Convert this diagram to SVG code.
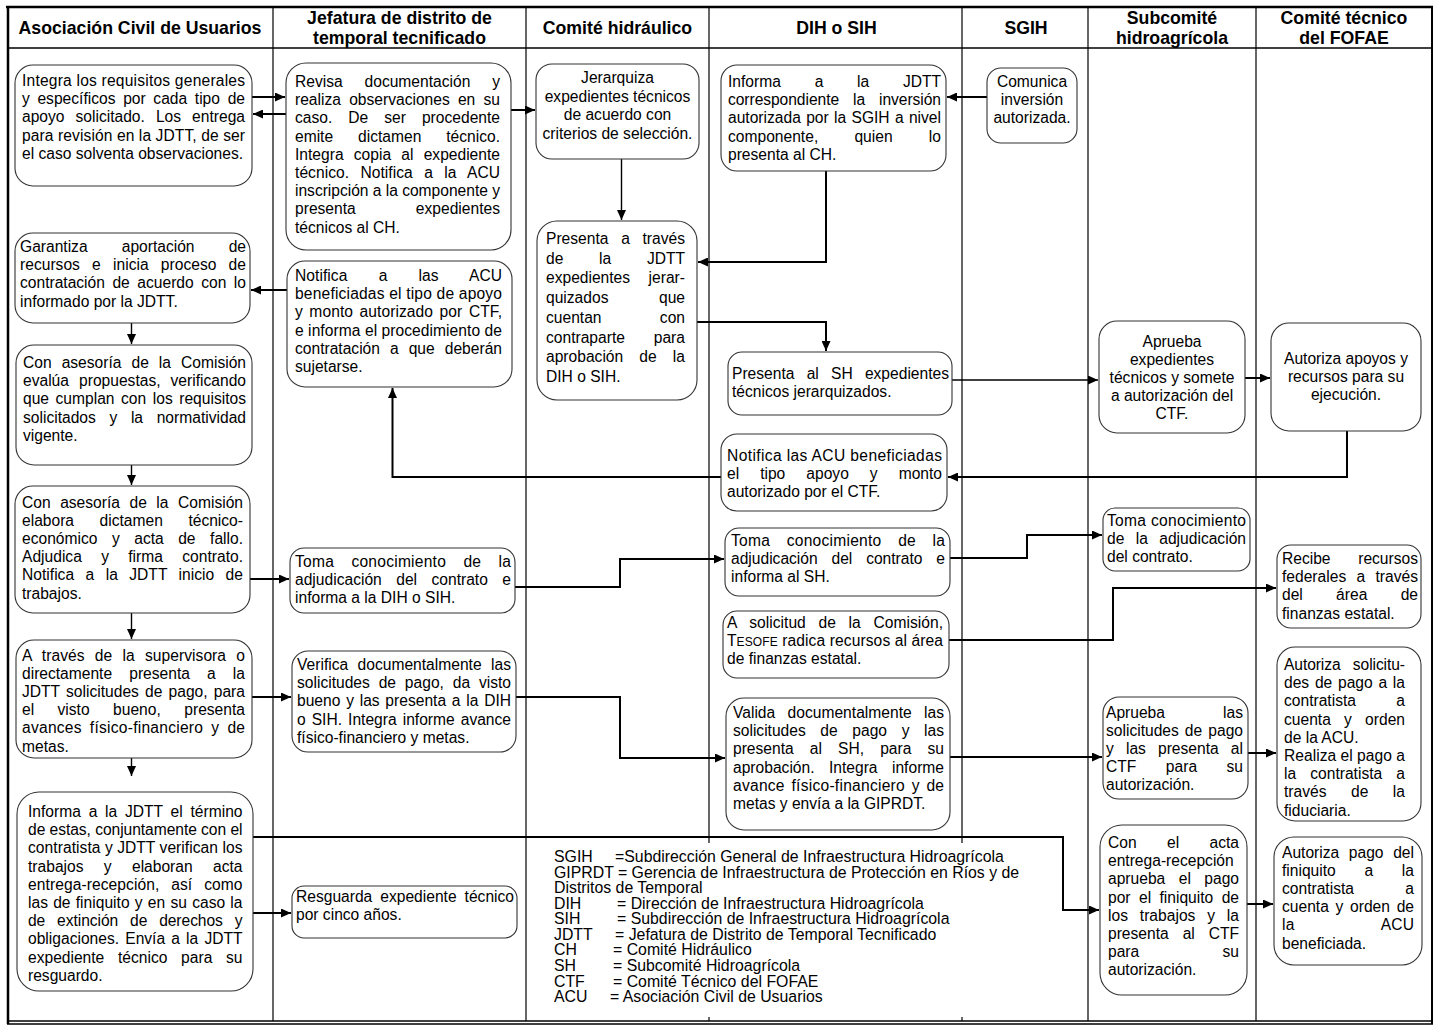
<svg xmlns="http://www.w3.org/2000/svg" width="1443" height="1033" viewBox="0 0 1443 1033">
<style>
.lane{stroke:#000;stroke-width:1.2;fill:none}
.frame{stroke:#000;fill:none}
.box{fill:#fff;stroke:#333;stroke-width:1.1}
.t{font-family:"Liberation Sans",Arial,Helvetica,sans-serif;font-size:15.6px;fill:#000}
.lg{font-size:15.85px}
.c{text-anchor:middle}
.h{font-family:"Liberation Sans",Arial,Helvetica,sans-serif;font-size:17.7px;font-weight:bold;fill:#000;text-anchor:middle}
.k{stroke:#000;stroke-width:2;fill:none;marker-end:url(#ah)}
.kt{stroke:#000;stroke-width:1.4;fill:none;marker-end:url(#ah)}
</style>
<defs>
<marker id="ah" markerUnits="userSpaceOnUse" markerWidth="10" markerHeight="9" refX="10" refY="4.5" orient="auto"><path d="M0,0 L10,4.5 L0,9 z" fill="#000"/></marker>
</defs>
<rect width="1443" height="1033" fill="#fff"/>
<g id="lanes">
<line class="lane" x1="273" y1="7" x2="273" y2="1021"/>
<line class="lane" x1="526" y1="7" x2="526" y2="1021"/>
<line class="lane" x1="709" y1="7" x2="709" y2="1021"/>
<line class="lane" x1="962" y1="7" x2="962" y2="1021"/>
<line class="lane" x1="1088" y1="7" x2="1088" y2="1021"/>
<line class="lane" x1="1256" y1="7" x2="1256" y2="1021"/>
<line class="frame" x1="6" y1="7" x2="1433" y2="7" stroke-width="2.5"/>
<line class="frame" x1="7" y1="48" x2="1432" y2="48" stroke-width="1.5"/>
<line class="frame" x1="8" y1="6" x2="8" y2="1024" stroke-width="2.5"/>
<line class="frame" x1="1432" y1="6" x2="1432" y2="1024" stroke-width="2"/>
<line class="frame" x1="7" y1="1021" x2="1433" y2="1021" stroke-width="1.4"/>
<line class="frame" x1="7" y1="1024" x2="1433" y2="1024" stroke-width="1.4"/>
<text class="h" x="140" y="34">Asociación Civil de Usuarios</text>
<text class="h" x="399.5" y="24">Jefatura de distrito de</text>
<text class="h" x="399.5" y="44">temporal tecnificado</text>
<text class="h" x="617.5" y="34">Comité hidráulico</text>
<text class="h" x="836.5" y="34">DIH o SIH</text>
<text class="h" x="1026" y="34">SGIH</text>
<text class="h" x="1172" y="24">Subcomité</text>
<text class="h" x="1172" y="44">hidroagrícola</text>
<text class="h" x="1344" y="24">Comité técnico</text>
<text class="h" x="1344" y="44">del FOFAE</text>
</g>
<g id="legend">
<rect x="548" y="843" width="492" height="174" fill="#fff"/>
<g class="t lg">
<text x="554" y="862">SGIH</text><text x="615" y="862">=Subdirección General de Infraestructura Hidroagrícola</text>
<text x="554" y="878">GIPRDT = Gerencia de Infraestructura de Protección en Ríos y de</text>
<text x="554" y="893">Distritos de Temporal</text>
<text x="554" y="909">DIH</text><text x="617" y="909">= Dirección de Infraestructura Hidroagrícola</text>
<text x="554" y="924">SIH</text><text x="617" y="924">= Subdirección de Infraestructura Hidroagrícola</text>
<text x="554" y="940">JDTT</text><text x="615" y="940">= Jefatura de Distrito de Temporal Tecnificado</text>
<text x="554" y="955">CH</text><text x="613" y="955">= Comité Hidráulico</text>
<text x="554" y="971">SH</text><text x="613" y="971">= Subcomité Hidroagrícola</text>
<text x="554" y="987">CTF</text><text x="613" y="987">= Comité Técnico del FOFAE</text>
<text x="554" y="1002">ACU</text><text x="610" y="1002">= Asociación Civil de Usuarios</text>
</g>
</g>
<g id="connectors">
<path class="k" d="M252,97 H285"/>
<path class="k" d="M286,114 H253"/>
<path class="k" d="M511,110 H535"/>
<path class="kt" d="M621.5,159 V220"/>
<path class="k" d="M987,97 H947"/>
<path class="k" d="M826,171 V262 H698"/>
<path class="k" d="M697,322 H826 V351"/>
<path class="kt" d="M952,380 H1098"/>
<path class="k" d="M1245,378 H1270"/>
<path class="k" d="M1347,431 V477 H948"/>
<path class="k" d="M721,477 H392.5 V388"/>
<path class="k" d="M287,290 H251"/>
<path class="kt" d="M131.5,323 V344"/>
<path class="kt" d="M131.5,465 V485"/>
<path class="k" d="M250,579 H289"/>
<path class="k" d="M515,587 H620 V559 H724"/>
<path class="k" d="M950,558 H1027 V535 H1102"/>
<path class="k" d="M949,640 H1113 V588 H1276"/>
<path class="kt" d="M131.5,613 V639"/>
<path class="k" d="M252,697 H291"/>
<path class="k" d="M516,697 H620 V758 H725"/>
<path class="k" d="M950,757 H1102"/>
<path class="k" d="M1248,753 H1276"/>
<path class="kt" d="M131.5,758 V776"/>
<path class="k" d="M253,837 H1063 V910 H1099"/>
<path class="k" d="M253,913 H291"/>
<path class="k" d="M1247,904 H1273"/>
</g>
<g id="n-acu-integra" class="t">
<rect class="box" x="15" y="65" width="237" height="121" rx="18"/>
<text x="22" y="86" textLength="223" lengthAdjust="spacing">Integra los requisitos generales</text>
<text x="22" y="104.2" textLength="223" lengthAdjust="spacing" word-spacing="3.3">y específicos por cada tipo de</text>
<text x="22" y="122.4" textLength="223" lengthAdjust="spacing" word-spacing="6.7">apoyo solicitado. Los entrega</text>
<text x="22" y="140.6" textLength="223" lengthAdjust="spacing">para revisión en la JDTT, de ser</text>
<text x="22" y="158.8">el caso solventa observaciones.</text>
</g>
<g id="n-jdtt-revisa" class="t">
<rect class="box" x="286" y="63" width="225" height="187" rx="20"/>
<text x="295" y="87" textLength="205" lengthAdjust="spacing" word-spacing="17.5">Revisa documentación y</text>
<text x="295" y="105.2" textLength="205" lengthAdjust="spacing" word-spacing="3.9">realiza observaciones en su</text>
<text x="295" y="123.4" textLength="205" lengthAdjust="spacing" word-spacing="11.7">caso. De ser procedente</text>
<text x="295" y="141.6" textLength="205" lengthAdjust="spacing" word-spacing="20.6">emite dictamen técnico.</text>
<text x="295" y="159.8" textLength="205" lengthAdjust="spacing" word-spacing="5.9">Integra copia al expediente</text>
<text x="295" y="178" textLength="205" lengthAdjust="spacing" word-spacing="7">técnico. Notifica a la ACU</text>
<text x="295" y="196.2" textLength="205" lengthAdjust="spacing">inscripción a la componente y</text>
<text x="295" y="214.4" textLength="205" lengthAdjust="spacing" word-spacing="55.8">presenta expedientes</text>
<text x="295" y="232.6">técnicos al CH.</text>
</g>
<g id="n-ch-jerarquiza" class="t c">
<rect class="box" x="536" y="64" width="163" height="95" rx="16"/>
<text x="617.5" y="83">Jerarquiza</text>
<text x="617.5" y="101.5">expedientes técnicos</text>
<text x="617.5" y="120">de acuerdo con</text>
<text x="617.5" y="138.5">criterios de selección.</text>
</g>
<g id="n-dih-informa" class="t">
<rect class="box" x="721" y="65" width="225" height="106" rx="16"/>
<text x="728" y="87" textLength="213" lengthAdjust="spacing" word-spacing="29.4">Informa a la JDTT</text>
<text x="728" y="105.2" textLength="213" lengthAdjust="spacing" word-spacing="9.7">correspondiente la inversión</text>
<text x="728" y="123.4" textLength="213" lengthAdjust="spacing" word-spacing="1">autorizada por la SGIH a nivel</text>
<text x="728" y="141.6" textLength="213" lengthAdjust="spacing" word-spacing="31.9">componente, quien lo</text>
<text x="728" y="159.8">presenta al CH.</text>
</g>
<g id="n-sgih-comunica" class="t c">
<rect class="box" x="987" y="68" width="90" height="75" rx="14"/>
<text x="1032" y="86.5">Comunica</text>
<text x="1032" y="104.5">inversión</text>
<text x="1032" y="122.5">autorizada.</text>
</g>
<g id="n-acu-garantiza" class="t">
<rect class="box" x="15" y="233" width="235" height="90" rx="18"/>
<text x="20" y="252" textLength="226" lengthAdjust="spacing" word-spacing="29.8">Garantiza aportación de</text>
<text x="20" y="270.2" textLength="226" lengthAdjust="spacing" word-spacing="7.9">recursos e inicia proceso de</text>
<text x="20" y="288.4" textLength="226" lengthAdjust="spacing" word-spacing="3.2">contratación de acuerdo con lo</text>
<text x="20" y="306.6">informado por la JDTT.</text>
</g>
<g id="n-jdtt-notifica" class="t">
<rect class="box" x="287" y="261" width="225" height="126" rx="18"/>
<text x="295" y="281" textLength="207" lengthAdjust="spacing" word-spacing="26.8">Notifica a las ACU</text>
<text x="295" y="299.2" textLength="207" lengthAdjust="spacing">beneficiadas el tipo de apoyo</text>
<text x="295" y="317.4" textLength="207" lengthAdjust="spacing" word-spacing="2.1">y monto autorizado por CTF,</text>
<text x="295" y="335.6" textLength="207" lengthAdjust="spacing">e informa el procedimiento de</text>
<text x="295" y="353.8" textLength="207" lengthAdjust="spacing" word-spacing="5.7">contratación a que deberán</text>
<text x="295" y="372">sujetarse.</text>
</g>
<g id="n-ch-presenta" class="t">
<rect class="box" x="537" y="221" width="160" height="179" rx="20"/>
<text x="546" y="244" textLength="139" lengthAdjust="spacing" word-spacing="8.4">Presenta a través</text>
<text x="546" y="263.7" textLength="139" lengthAdjust="spacing" word-spacing="31.4">de la JDTT</text>
<text x="546" y="283.4" textLength="139" lengthAdjust="spacing" word-spacing="14.2">expedientes jerar-</text>
<text x="546" y="303.1" textLength="139" lengthAdjust="spacing" word-spacing="46.2">quizados que</text>
<text x="546" y="322.8" textLength="139" lengthAdjust="spacing" word-spacing="54">cuentan con</text>
<text x="546" y="342.5" textLength="139" lengthAdjust="spacing" word-spacing="24.5">contraparte para</text>
<text x="546" y="362.2" textLength="139" lengthAdjust="spacing" word-spacing="11.8">aprobación de la</text>
<text x="546" y="381.9">DIH o SIH.</text>
</g>
<g id="n-dih-presenta-sh" class="t">
<rect class="box" x="728" y="352" width="224" height="63" rx="14"/>
<text x="732" y="379" textLength="217" lengthAdjust="spacing" word-spacing="7.9">Presenta al SH expedientes</text>
<text x="732" y="397.2">técnicos jerarquizados.</text>
</g>
<g id="n-sh-aprueba-exp" class="t c">
<rect class="box" x="1099" y="321" width="146" height="112" rx="18"/>
<text x="1172" y="346.5">Aprueba</text>
<text x="1172" y="364.7">expedientes</text>
<text x="1172" y="382.9">técnicos y somete</text>
<text x="1172" y="401.1">a autorización del</text>
<text x="1172" y="419.3">CTF.</text>
</g>
<g id="n-ctf-autoriza-apoyos" class="t c">
<rect class="box" x="1271" y="323" width="150" height="108" rx="18"/>
<text x="1346" y="364">Autoriza apoyos y</text>
<text x="1346" y="382.2">recursos para su</text>
<text x="1346" y="400.4">ejecución.</text>
</g>
<g id="n-acu-evalua" class="t">
<rect class="box" x="16" y="345" width="236" height="120" rx="18"/>
<text x="23" y="368" textLength="223" lengthAdjust="spacing" word-spacing="5.7">Con asesoría de la Comisión</text>
<text x="23" y="386.2" textLength="223" lengthAdjust="spacing" word-spacing="5.7">evalúa propuestas, verificando</text>
<text x="23" y="404.4" textLength="223" lengthAdjust="spacing" word-spacing="2.2">que cumplan con los requisitos</text>
<text x="23" y="422.6" textLength="223" lengthAdjust="spacing" word-spacing="9.3">solicitados y la normatividad</text>
<text x="23" y="440.8">vigente.</text>
</g>
<g id="n-dih-notifica" class="t">
<rect class="box" x="721" y="434" width="226" height="77" rx="16"/>
<text x="727" y="461" textLength="215" lengthAdjust="spacing">Notifica las ACU beneficiadas</text>
<text x="727" y="479.2" textLength="215" lengthAdjust="spacing" word-spacing="16.7">el tipo apoyo y monto</text>
<text x="727" y="497.4">autorizado por el CTF.</text>
</g>
<g id="n-acu-elabora" class="t">
<rect class="box" x="15" y="486" width="235" height="127" rx="18"/>
<text x="22" y="507.5" textLength="221" lengthAdjust="spacing" word-spacing="5.2">Con asesoría de la Comisión</text>
<text x="22" y="525.7" textLength="221" lengthAdjust="spacing" word-spacing="21.2">elabora dictamen técnico-</text>
<text x="22" y="543.9" textLength="221" lengthAdjust="spacing" word-spacing="10.2">económico y acta de fallo.</text>
<text x="22" y="562.1" textLength="221" lengthAdjust="spacing" word-spacing="15">Adjudica y firma contrato.</text>
<text x="22" y="580.3" textLength="221" lengthAdjust="spacing" word-spacing="7.1">Notifica a la JDTT inicio de</text>
<text x="22" y="598.5">trabajos.</text>
</g>
<g id="n-jdtt-toma" class="t">
<rect class="box" x="290" y="548" width="225" height="65" rx="14"/>
<text x="295" y="566.5" textLength="216" lengthAdjust="spacing" word-spacing="12.8">Toma conocimiento de la</text>
<text x="295" y="584.7" textLength="216" lengthAdjust="spacing" word-spacing="10.1">adjudicación del contrato e</text>
<text x="295" y="602.9">informa a la DIH o SIH.</text>
</g>
<g id="n-dih-toma" class="t">
<rect class="box" x="725" y="528" width="225" height="68" rx="14"/>
<text x="731" y="546" textLength="214" lengthAdjust="spacing" word-spacing="12.1">Toma conocimiento de la</text>
<text x="731" y="564.2" textLength="214" lengthAdjust="spacing" word-spacing="9.5">adjudicación del contrato e</text>
<text x="731" y="582.4">informa al SH.</text>
</g>
<g id="n-sh-toma" class="t">
<rect class="box" x="1103" y="508" width="147" height="63" rx="12"/>
<text x="1107" y="525.5" textLength="139" lengthAdjust="spacing">Toma conocimiento</text>
<text x="1107" y="543.7" textLength="139" lengthAdjust="spacing" word-spacing="7">de la adjudicación</text>
<text x="1107" y="561.9">del contrato.</text>
</g>
<g id="n-ctf-recibe" class="t">
<rect class="box" x="1277" y="545" width="144" height="83" rx="14"/>
<text x="1282" y="564" textLength="136" lengthAdjust="spacing" word-spacing="23.3">Recibe recursos</text>
<text x="1282" y="582.2" textLength="136" lengthAdjust="spacing" word-spacing="6">federales a través</text>
<text x="1282" y="600.4" textLength="136" lengthAdjust="spacing" word-spacing="29">del área de</text>
<text x="1282" y="618.6">finanzas estatal.</text>
</g>
<g id="n-dih-solicitud" class="t">
<rect class="box" x="723" y="611" width="226" height="67" rx="14"/>
<text x="727" y="627.5" textLength="216" lengthAdjust="spacing" word-spacing="8.3">A solicitud de la Comisión,</text>
<text x="727" y="645.7" textLength="216" lengthAdjust="spacing">T<tspan font-size="12">ESOFE</tspan> radica recursos al área</text>
<text x="727" y="663.9">de finanzas estatal.</text>
</g>
<g id="n-acu-supervisora" class="t">
<rect class="box" x="16" y="640" width="236" height="118" rx="18"/>
<text x="22" y="660.5" textLength="223" lengthAdjust="spacing" word-spacing="5.9">A través de la supervisora o</text>
<text x="22" y="678.7" textLength="223" lengthAdjust="spacing" word-spacing="12.8">directamente presenta a la</text>
<text x="22" y="696.9" textLength="223" lengthAdjust="spacing" word-spacing="1.8">JDTT solicitudes de pago, para</text>
<text x="22" y="715.1" textLength="223" lengthAdjust="spacing" word-spacing="19.1">el visto bueno, presenta</text>
<text x="22" y="733.3" textLength="223" lengthAdjust="spacing" word-spacing="3.5">avances físico-financiero y de</text>
<text x="22" y="751.5">metas.</text>
</g>
<g id="n-jdtt-verifica" class="t">
<rect class="box" x="292" y="651" width="224" height="101" rx="16"/>
<text x="297" y="670" textLength="214" lengthAdjust="spacing" word-spacing="5.1">Verifica documentalmente las</text>
<text x="297" y="688.2" textLength="214" lengthAdjust="spacing" word-spacing="4.5">solicitudes de pago, da visto</text>
<text x="297" y="706.4" textLength="214" lengthAdjust="spacing" word-spacing="1.4">bueno y las presenta a la DIH</text>
<text x="297" y="724.6" textLength="214" lengthAdjust="spacing" word-spacing="1.7">o SIH. Integra informe avance</text>
<text x="297" y="742.8">físico-financiero y metas.</text>
</g>
<g id="n-ctf-autoriza-solicitudes" class="t">
<rect class="box" x="1277" y="647" width="144" height="174" rx="18"/>
<text x="1284" y="670" textLength="121" lengthAdjust="spacing" word-spacing="8.1">Autoriza solicitu-</text>
<text x="1284" y="688.2" textLength="121" lengthAdjust="spacing" word-spacing="1.4">des de pago a la</text>
<text x="1284" y="706.4" textLength="121" lengthAdjust="spacing" word-spacing="36">contratista a</text>
<text x="1284" y="724.6" textLength="121" lengthAdjust="spacing" word-spacing="8.9">cuenta y orden</text>
<text x="1284" y="742.8">de la ACU.</text>
<text x="1284" y="761" textLength="121" lengthAdjust="spacing">Realiza el pago a</text>
<text x="1284" y="779.2" textLength="121" lengthAdjust="spacing" word-spacing="9.8">la contratista a</text>
<text x="1284" y="797.4" textLength="121" lengthAdjust="spacing" word-spacing="20.2">través de la</text>
<text x="1284" y="815.6">fiduciaria.</text>
</g>
<g id="n-dih-valida" class="t">
<rect class="box" x="726" y="698" width="224" height="132" rx="18"/>
<text x="733" y="718" textLength="211" lengthAdjust="spacing" word-spacing="8">Valida documentalmente las</text>
<text x="733" y="736.2" textLength="211" lengthAdjust="spacing" word-spacing="10.3">solicitudes de pago y las</text>
<text x="733" y="754.4" textLength="211" lengthAdjust="spacing" word-spacing="11.8">presenta al SH, para su</text>
<text x="733" y="772.6" textLength="211" lengthAdjust="spacing" word-spacing="10.1">aprobación. Integra informe</text>
<text x="733" y="790.8" textLength="211" lengthAdjust="spacing" word-spacing="2.1">avance físico-financiero y de</text>
<text x="733" y="809">metas y envía a la GIPRDT.</text>
</g>
<g id="n-sh-aprueba-solicitudes" class="t">
<rect class="box" x="1103" y="697" width="145" height="102" rx="16"/>
<text x="1106" y="717.5" textLength="137" lengthAdjust="spacing" word-spacing="53.8">Aprueba las</text>
<text x="1106" y="735.7" textLength="137" lengthAdjust="spacing" word-spacing="1.7">solicitudes de pago</text>
<text x="1106" y="753.9" textLength="137" lengthAdjust="spacing" word-spacing="7.8">y las presenta al</text>
<text x="1106" y="772.1" textLength="137" lengthAdjust="spacing" word-spacing="25.1">CTF para su</text>
<text x="1106" y="790.3">autorización.</text>
</g>
<g id="n-acu-informa" class="t">
<rect class="box" x="17" y="792" width="236" height="199" rx="22"/>
<text x="28" y="817" textLength="214.5" lengthAdjust="spacing" word-spacing="3.4">Informa a la JDTT el término</text>
<text x="28" y="835.2" textLength="214.5" lengthAdjust="spacing">de estas, conjuntamente con el</text>
<text x="28" y="853.4" textLength="214.5" lengthAdjust="spacing">contratista y JDTT verifican los</text>
<text x="28" y="871.6" textLength="214.5" lengthAdjust="spacing" word-spacing="16">trabajos y elaboran acta</text>
<text x="28" y="889.8" textLength="214.5" lengthAdjust="spacing" word-spacing="7.5">entrega-recepción, así como</text>
<text x="28" y="908" textLength="214.5" lengthAdjust="spacing" word-spacing="0.9">las de finiquito y en su caso la</text>
<text x="28" y="926.2" textLength="214.5" lengthAdjust="spacing" word-spacing="7.6">de extinción de derechos y</text>
<text x="28" y="944.4" textLength="214.5" lengthAdjust="spacing" word-spacing="1.8">obligaciones. Envía a la JDTT</text>
<text x="28" y="962.6" textLength="214.5" lengthAdjust="spacing" word-spacing="9.4">expediente técnico para su</text>
<text x="28" y="980.8">resguardo.</text>
</g>
<g id="n-jdtt-resguarda" class="t">
<rect class="box" x="292" y="886" width="225" height="52" rx="12"/>
<text x="296" y="902" textLength="218" lengthAdjust="spacing" word-spacing="3.7">Resguarda expediente técnico</text>
<text x="296" y="920.2">por cinco años.</text>
</g>
<g id="n-sh-acta" class="t">
<rect class="box" x="1100" y="825" width="147" height="170" rx="22"/>
<text x="1108" y="848" textLength="131" lengthAdjust="spacing" word-spacing="26">Con el acta</text>
<text x="1108" y="866.2">entrega-recepción</text>
<text x="1108" y="884.4" textLength="131" lengthAdjust="spacing" word-spacing="9.1">aprueba el pago</text>
<text x="1108" y="902.6" textLength="131" lengthAdjust="spacing" word-spacing="4.1">por el finiquito de</text>
<text x="1108" y="920.8" textLength="131" lengthAdjust="spacing" word-spacing="7.5">los trabajos y la</text>
<text x="1108" y="939" textLength="131" lengthAdjust="spacing" word-spacing="9.6">presenta al CTF</text>
<text x="1108" y="957.2" textLength="131" lengthAdjust="spacing" word-spacing="79">para su</text>
<text x="1108" y="975.4">autorización.</text>
</g>
<g id="n-ctf-autoriza-pago" class="t">
<rect class="box" x="1274" y="837" width="148" height="128" rx="20"/>
<text x="1282" y="857.5" textLength="132" lengthAdjust="spacing" word-spacing="5.3">Autoriza pago del</text>
<text x="1282" y="875.7" textLength="132" lengthAdjust="spacing" word-spacing="24.4">finiquito a la</text>
<text x="1282" y="893.9" textLength="132" lengthAdjust="spacing" word-spacing="47">contratista a</text>
<text x="1282" y="912.1" textLength="132" lengthAdjust="spacing" word-spacing="2.4">cuenta y orden de</text>
<text x="1282" y="930.3" textLength="132" lengthAdjust="spacing" word-spacing="82.6">la ACU</text>
<text x="1282" y="948.5">beneficiada.</text>
</g>
</svg>
